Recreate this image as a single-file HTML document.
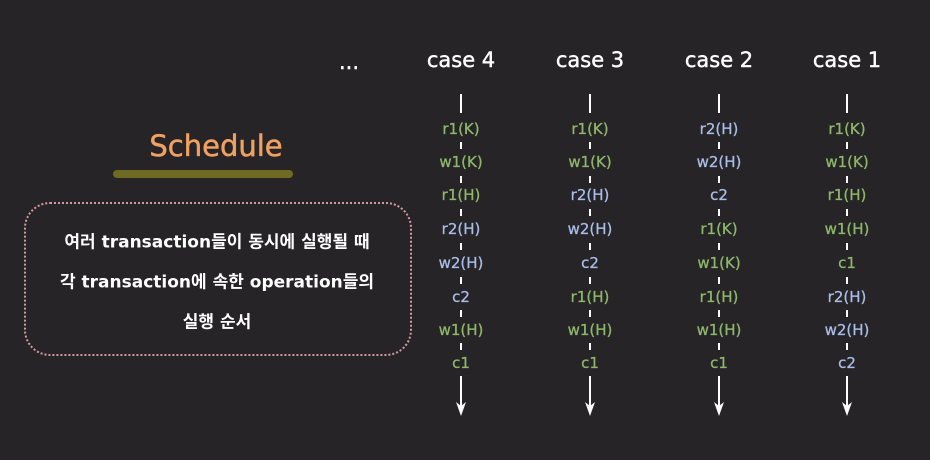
<!DOCTYPE html>
<html><head><meta charset="utf-8"><style>
body{margin:0;width:930px;height:460px;background:#262426;overflow:hidden;position:relative;font-family:"Liberation Sans","Noto Sans CJK KR",sans-serif}
.a{position:absolute;transform:translate(-50%,-50%);white-space:nowrap}
.h{color:#fff;font-size:21px;font-family:"DejaVu Sans",sans-serif;-webkit-text-stroke:0.4px #fff}
.g{color:#8db86a;font-size:15px;font-family:"DejaVu Sans",sans-serif;-webkit-text-stroke:0.3px #8db86a}
.b{color:#a8bde8;font-size:15px;font-family:"DejaVu Sans",sans-serif;-webkit-text-stroke:0.3px #a8bde8}
.t{color:#fff;font-size:17px;font-family:"DejaVu Sans","Noto Sans CJK KR",sans-serif;font-weight:bold}
</style></head><body>
<div class="a h" style="left:349px;top:62px">...</div>
<div class="a h" style="left:461px;top:60px">case 4</div>
<div class="a h" style="left:590px;top:60px">case 3</div>
<div class="a h" style="left:719px;top:60px">case 2</div>
<div class="a h" style="left:847px;top:60px">case 1</div>

<div class="a" style="left:216px;top:146px;color:#f0a060;font-size:29px;font-family:'DejaVu Sans',sans-serif;-webkit-text-stroke:0.5px #f0a060">Schedule</div>
<div style="position:absolute;left:113px;top:170px;width:180px;height:8px;border-radius:4px;background:#6e6a22"></div>
<div style="position:absolute;left:24px;top:202px;width:384px;height:150px;border:2px dotted #d49aa0;border-radius:26px"></div>
<div class="a t" style="left:217px;top:240px">여러 transaction들이 동시에 실행될 때</div>
<div class="a t" style="left:217px;top:280px">각 transaction에 속한 operation들의</div>
<div class="a t" style="left:217px;top:320px">실행 순서</div>

<svg style="position:absolute;left:0;top:0" width="930" height="460">
<g stroke="#fff" stroke-width="2">
<path d="M461 94V113M590 94V113M719 94V113M847 94V113"/>
<path d="M461 142V149M461 176V183M461 209V216M461 243V250M461 277V284M461 310V317M461 343V350
M590 142V149M590 176V183M590 209V216M590 243V250M590 277V284M590 310V317M590 343V350
M719 142V149M719 176V183M719 209V216M719 243V250M719 277V284M719 310V317M719 343V350
M847 142V149M847 176V183M847 209V216M847 243V250M847 277V284M847 310V317M847 343V350"/>
<path d="M461 376V410M590 376V410M719 376V410M847 376V410"/>
</g>
<g fill="#fff">
<path d="M456 402L461 416L466 402L461 406Z"/><path d="M585 402L590 416L595 402L590 406Z"/>
<path d="M714 402L719 416L724 402L719 406Z"/><path d="M842 402L847 416L852 402L847 406Z"/>
</g></svg>

<div class="a g" style="left:461px;top:129px">r1(K)</div>
<div class="a g" style="left:461px;top:162px">w1(K)</div>
<div class="a g" style="left:461px;top:195px">r1(H)</div>
<div class="a b" style="left:461px;top:229px">r2(H)</div>
<div class="a b" style="left:461px;top:263px">w2(H)</div>
<div class="a b" style="left:461px;top:297px">c2</div>
<div class="a g" style="left:461px;top:330px">w1(H)</div>
<div class="a g" style="left:461px;top:363px">c1</div>

<div class="a g" style="left:590px;top:129px">r1(K)</div>
<div class="a g" style="left:590px;top:162px">w1(K)</div>
<div class="a b" style="left:590px;top:195px">r2(H)</div>
<div class="a b" style="left:590px;top:229px">w2(H)</div>
<div class="a b" style="left:590px;top:263px">c2</div>
<div class="a g" style="left:590px;top:297px">r1(H)</div>
<div class="a g" style="left:590px;top:330px">w1(H)</div>
<div class="a g" style="left:590px;top:363px">c1</div>

<div class="a b" style="left:719px;top:129px">r2(H)</div>
<div class="a b" style="left:719px;top:162px">w2(H)</div>
<div class="a b" style="left:719px;top:195px">c2</div>
<div class="a g" style="left:719px;top:229px">r1(K)</div>
<div class="a g" style="left:719px;top:263px">w1(K)</div>
<div class="a g" style="left:719px;top:297px">r1(H)</div>
<div class="a g" style="left:719px;top:330px">w1(H)</div>
<div class="a g" style="left:719px;top:363px">c1</div>

<div class="a g" style="left:847px;top:129px">r1(K)</div>
<div class="a g" style="left:847px;top:162px">w1(K)</div>
<div class="a g" style="left:847px;top:195px">r1(H)</div>
<div class="a g" style="left:847px;top:229px">w1(H)</div>
<div class="a g" style="left:847px;top:263px">c1</div>
<div class="a b" style="left:847px;top:297px">r2(H)</div>
<div class="a b" style="left:847px;top:330px">w2(H)</div>
<div class="a b" style="left:847px;top:363px">c2</div>
</body></html>
